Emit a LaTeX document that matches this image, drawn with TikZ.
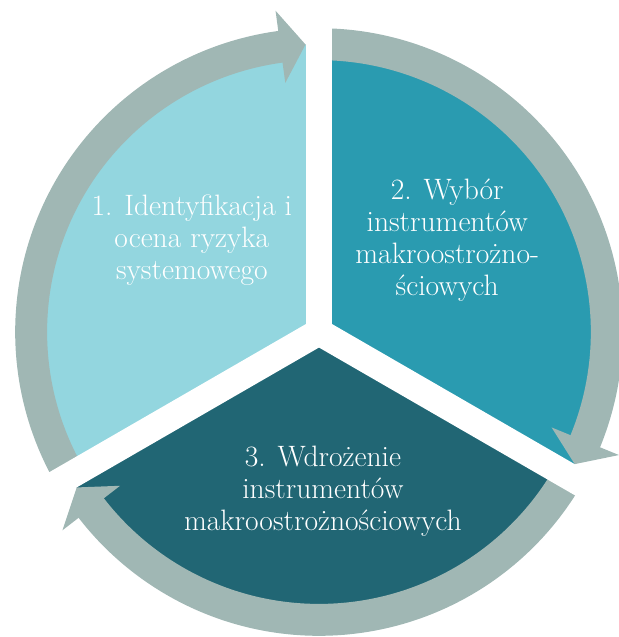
\documentclass[tikz,border=0pt]{standalone}
\usepackage{fontspec}
\definecolor{jasny}{RGB}{147,214,223}
\definecolor{sredni}{RGB}{42,155,176}
\definecolor{ciemny}{RGB}{33,102,116}
\definecolor{szary}{RGB}{160,183,180}
\begin{document}
\begin{tikzpicture}[
    pierscien/.style={draw=szary, line width=0.57cm},
    grot/.style={fill=szary},
    szczelina/.style={draw=white, line width=0.48cm},
    napis/.style={text=white, align=center, font=\fontsize{15}{16.3}\selectfont}]
    \useasboundingbox (-5.696,-5.446) rectangle (5.357,5.929);
    % Sektory
    \fill[jasny] (0,0) -- (90:5.14) arc[start angle=90, end angle=210, radius=5.14] -- cycle;
    \fill[sredni] (0,0) -- (-30:5.14) arc[start angle=-30, end angle=90, radius=5.14] -- cycle;
    \fill[ciemny] (0,0) -- (210:5.14) arc[start angle=210, end angle=330, radius=5.14] -- cycle;

    % Pierscien ze strzalkami
    \draw[pierscien] (209:5.14) arc[start angle=209, end angle=97.2, radius=5.14];
    \draw[pierscien] (89:5.14) arc[start angle=89, end angle=-22.8, radius=5.14];
    \draw[pierscien] (329:5.14) arc[start angle=329, end angle=217.2, radius=5.14];

    % Szczeliny
    \foreach \k in {90,210,330}
        \draw[szczelina] (0,0) -- (\k:6.2);

    % Groty
    \fill[grot] (97.7:4.49) -- (92.68:5.14) -- (97.7:5.79) -- cycle;
    \fill[grot] (-22.3:4.49) -- (-27.32:5.14) -- (-22.3:5.79) -- cycle;
    \fill[grot] (217.7:4.49) -- (212.68:5.14) -- (217.7:5.79) -- cycle;

    % Napisy
    \node[napis] (t1) at (-2.27,1.64) {1. Identyfikacja i\\ocena ryzyka\\systemowego};
    \node[napis] (t2) at (2.29,1.64) {2. Wybór\\instrumentów\\makroostrożno-\\ściowych};
    \node[napis] (t3) at (0.07,-2.84) {3. Wdrożenie\\instrumentów\\makroostrożnościowych};
\end{tikzpicture}
\end{document}
